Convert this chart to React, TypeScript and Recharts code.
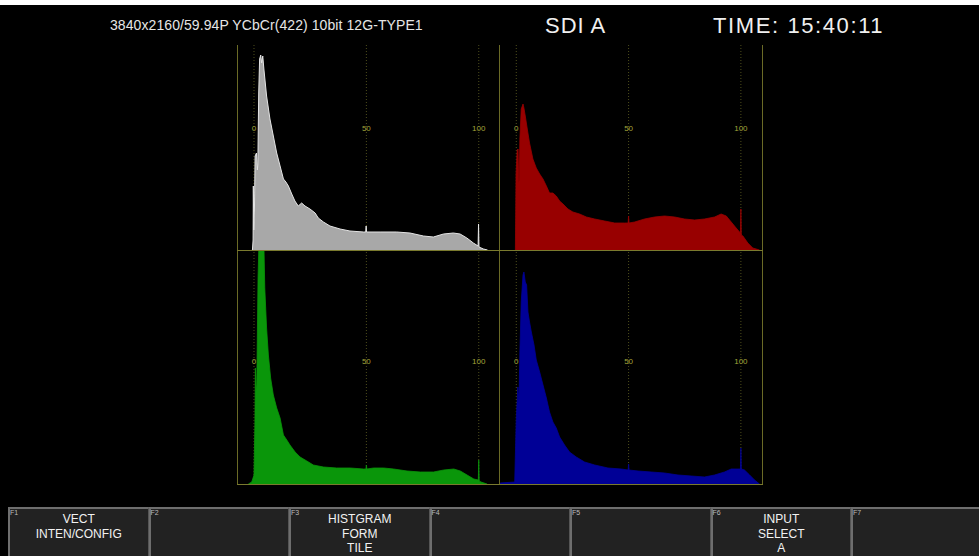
import React from 'react';
import { AreaChart, Area, XAxis, YAxis, ReferenceLine } from 'recharts';

// Signal level (%) -> histogram height (px units of the panel)
const lumaHist: [number, number][] = [
  [-0.7, 0], [-0.4, 10], [-0.3, 64], [-0.1, 20], [0.2, 40], [0.5, 94], [1.1, 97], [1.5, 80], [1.7, 85],
  [2.1, 157], [2.5, 191], [3.0, 195], [3.4, 187], [3.9, 194], [4.4, 181], [5.6, 154], [7.1, 131],
  [8.6, 114], [10.1, 97], [11.6, 84], [13.1, 71], [14.2, 68], [15.3, 64], [16.8, 56], [18.2, 49],
  [19.7, 44], [21.2, 47], [22.7, 44], [24.9, 41], [27.2, 37], [28.6, 32], [30.9, 28], [33.8, 24],
  [38.3, 21], [42.7, 19], [48.7, 18], [49.7, 18], [49.9, 24], [50.1, 18], [56.1, 18], [63.5, 18],
  [69.4, 17], [75.4, 14], [79.8, 13], [84.3, 16], [88.7, 17], [91.7, 16], [94.7, 12], [97.6, 7],
  [99.7, 4], [99.9, 26], [100.1, 3], [102.1, 1], [103.9, 0],
];

const redHist: [number, number][] = [
  [-0.4, 0], [-0.1, 76], [0.4, 100], [0.8, 101], [1.1, 67], [1.3, 70], [1.6, 111], [2.2, 141],
  [3.0, 146], [3.4, 142], [4.0, 134], [4.9, 121], [5.9, 107], [7.4, 91], [8.9, 82], [10.4, 76],
  [11.9, 71], [13.4, 64], [14.8, 57], [16.3, 57], [17.8, 54], [19.3, 49], [20.8, 46], [23, 41],
  [25.2, 38], [28.2, 36], [31.2, 33], [34.9, 31], [39.3, 29], [43.8, 27], [48.2, 27], [49.8, 27],
  [50, 34], [50.2, 27], [52.7, 28], [57.1, 31], [61.6, 33], [66, 34], [70.5, 33], [74.9, 31],
  [79.4, 30], [83.8, 31], [88.3, 33], [91.2, 36], [93.5, 34], [95.7, 28], [97.9, 22], [99.8, 17],
  [100, 41], [100.2, 15], [100.9, 14], [103.1, 7], [105.3, 2], [108.3, 0],
];

const greenHist: [number, number][] = [
  [-2.5, 0], [-1.0, 2], [0, 9], [0.4, 60], [0.6, 116], [0.9, 100], [1.2, 92], [1.8, 206], [2.2, 240],
  [4.4, 240], [4.8, 196], [5.6, 156], [6.4, 129], [7.4, 106], [8.6, 89], [10.1, 76], [11.6, 66],
  [13.1, 49], [14.6, 44], [16.0, 39], [18.3, 32], [20.5, 27], [23.5, 23], [26.4, 19], [30.9, 17],
  [36.8, 16], [42.8, 16], [48.7, 15], [49.8, 15], [50, 19], [50.2, 15], [53.2, 16], [57.7, 16],
  [62.1, 15], [68.1, 13], [74, 12], [79.9, 12], [84.4, 14], [88.9, 15], [91.8, 13], [94.8, 9],
  [97.8, 5], [99.8, 4], [100, 24], [100.2, 3], [101, 2], [103.7, 0],
];

const blueHist: [number, number][] = [
  [-7.2, 1], [-0.7, 2], [0, 66], [0.7, 97], [1.2, 82], [1.6, 132], [2.2, 182], [3.0, 209], [3.4, 212],
  [4.0, 202], [4.6, 199], [5.2, 172], [5.9, 162], [6.7, 152], [7.9, 139], [8.9, 124], [10.4, 112],
  [11.9, 99], [13.4, 86], [14.8, 72], [16.3, 62], [17.8, 56], [19.3, 47], [21.5, 39], [23.7, 32],
  [26.7, 27], [30.4, 22], [34.9, 19], [40.8, 16], [46.7, 15], [49.8, 14], [50, 20], [50.2, 14],
  [54.2, 13], [60.1, 12], [66, 11], [72, 9], [77.9, 8], [83.8, 7], [88.3, 9], [92.7, 12], [95.7, 15],
  [98.7, 15], [99.8, 15], [100, 36], [100.2, 15], [101.6, 14], [103.9, 9], [106.1, 4], [108.3, 0],
];

const gridLevels = [0, 50, 100];
const gridLabels = ['0', '50', '100'];

const headerFormat = '3840x2160/59.94P YCbCr(422) 10bit 12G-TYPE1';
const headerInput = 'SDI A';
const headerTime = 'TIME: 15:40:11';

const fkeyNames = ['F1', 'F2', 'F3', 'F4', 'F5', 'F6', 'F7'];
const fkeyLabels: string[][] = [
  ['VECT', 'INTEN/CONFIG'],
  [],
  ['HISTGRAM', 'FORM', 'TILE'],
  [],
  [],
  ['INPUT', 'SELECT', 'A'],
  [],
];

const OLIVE = '#6a6a26';
const DOT = '#4e4e1c';
const LABEL = '#a4a43a';

type PanelProps = {
  left: number; top: number; width: number; height: number;
  hist: [number, number][]; fill: string; stroke: string; strokeWidth: number;
  domain: [number, number]; labelOffset: number;
};

function Panel(p: PanelProps) {
  const data = p.hist.map(([level, count]) => ({ level, count }));
  const margin = { top: 0, right: 0, bottom: 0, left: 0 };
  return (
    <div style={{ position: 'absolute', left: p.left, top: p.top, width: p.width, height: p.height }}>
      {/* grid layer (behind the histogram) */}
      <div style={{ position: 'absolute', left: 0, top: 0 }}>
        <AreaChart width={p.width} height={p.height} data={data} margin={margin}>
          <XAxis type="number" dataKey="level" domain={p.domain} allowDataOverflow hide />
          <YAxis type="number" domain={[0, p.height]} allowDataOverflow hide />
          {gridLevels.map((v, i) => (
            <ReferenceLine
              key={v}
              x={v}
              stroke={DOT}
              strokeDasharray="1 2"
              label={{ value: gridLabels[i], position: 'insideTop', offset: p.labelOffset, fill: LABEL, fontSize: 8, fontFamily: 'Liberation Sans, Arial, sans-serif' }}
            />
          ))}
        </AreaChart>
      </div>
      {/* histogram layer */}
      <div style={{ position: 'absolute', left: 0, top: 0 }}>
        <AreaChart width={p.width} height={p.height} data={data} margin={margin}>
          <XAxis type="number" dataKey="level" domain={p.domain} allowDataOverflow hide />
          <YAxis type="number" domain={[0, p.height]} allowDataOverflow hide />
          <Area
            dataKey="count"
            type="linear"
            fill={p.fill}
            fillOpacity={1}
            stroke={p.stroke}
            strokeWidth={p.strokeWidth}
            isAnimationActive={false}
          />
        </AreaChart>
      </div>
    </div>
  );
}

export default function App() {
  const font = 'Liberation Sans, Arial, Helvetica, sans-serif';
  const leftDomain: [number, number] = [-7.56, 109.45];
  const rightDomain: [number, number] = [-7.25, 109.4];
  return (
    <div style={{ position: 'fixed', left: 0, top: 0, width: 979, height: 556, background: '#fff', overflow: 'hidden', fontFamily: font }}>
      <div style={{ position: 'absolute', left: 0, top: 5, width: 979, height: 551, background: '#000' }} />

      {/* header */}
      <div style={{ position: 'absolute', left: 110, top: 17, fontSize: 14, color: '#e6e6e6', whiteSpace: 'nowrap', lineHeight: '16px', letterSpacing: 0.08 }}>{headerFormat}</div>
      <div style={{ position: 'absolute', left: 545, top: 12, fontSize: 22, color: '#f0f0f0', whiteSpace: 'nowrap', lineHeight: '28px', letterSpacing: 1 }}>{headerInput}</div>
      <div style={{ position: 'absolute', left: 713, top: 12, fontSize: 22, color: '#f0f0f0', whiteSpace: 'nowrap', lineHeight: '28px', letterSpacing: 1.6 }}>{headerTime}</div>

      {/* histogram panels */}
      <Panel left={237} top={45} width={263} height={205} hist={lumaHist} fill="#a8a8a8" stroke="#e4e4e4" strokeWidth={1} domain={leftDomain} labelOffset={80} />
      <Panel left={500} top={45} width={262} height={205} hist={redHist} fill="#980000" stroke="#980000" strokeWidth={0.8} domain={rightDomain} labelOffset={80} />
      <Panel left={237} top={251} width={263} height={233} hist={greenHist} fill="#0a960a" stroke="#0a960a" strokeWidth={0.8} domain={leftDomain} labelOffset={107} />
      <Panel left={500} top={251} width={262} height={233} hist={blueHist} fill="#000096" stroke="#000096" strokeWidth={0.8} domain={rightDomain} labelOffset={107} />

      {/* frame */}
      <div style={{ position: 'absolute', left: 237, top: 45, width: 1, height: 440, background: OLIVE }} />
      <div style={{ position: 'absolute', left: 499, top: 45, width: 1, height: 440, background: OLIVE }} />
      <div style={{ position: 'absolute', left: 762, top: 45, width: 1, height: 440, background: OLIVE }} />
      <div style={{ position: 'absolute', left: 237, top: 250, width: 526, height: 1, background: '#7a7a2e' }} />
      <div style={{ position: 'absolute', left: 237, top: 484, width: 526, height: 1, background: '#7a7a2e' }} />

      {/* function keys */}
      {fkeyNames.map((name, i) => (
        <div key={name} style={{ position: 'absolute', left: 8 + i * 140.5, top: 507, width: 140.5, height: 60, boxSizing: 'border-box', background: '#222', borderLeft: '2px solid #6e6e6e', borderTop: '2px solid #6e6e6e', borderRight: '1px solid #555' }}>
          <div style={{ position: 'absolute', left: 0, top: 0, fontSize: 7, color: '#bbb', lineHeight: '8px' }}>{name}</div>
          <div style={{ position: 'absolute', left: 0, top: 3, width: '100%', textAlign: 'center', fontSize: 12, color: '#f2f2f2', lineHeight: '14.5px' }}>
            {fkeyLabels[i].map((t, j) => <div key={j}>{t}</div>)}
          </div>
        </div>
      ))}
    </div>
  );
}
